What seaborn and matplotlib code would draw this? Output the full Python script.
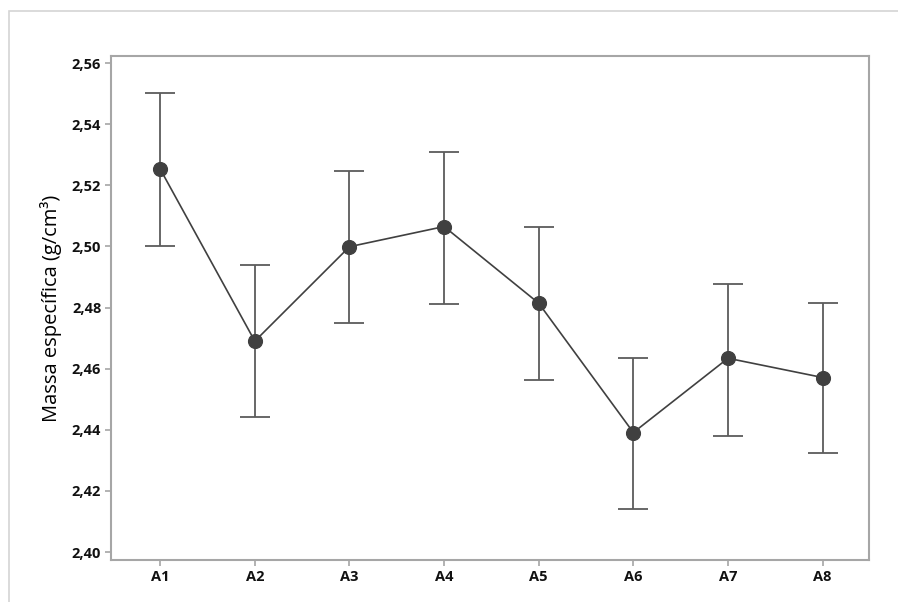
import numpy as np
import seaborn as sns
import matplotlib.pyplot as plt
from matplotlib.patches import Rectangle

sns.set_style("ticks")
plt.rcParams['font.family'] = ['Open Sans', 'DejaVu Sans']

grupos = ["A1", "A2", "A3", "A4", "A5", "A6", "A7", "A8"]
media = [2.5253, 2.4690, 2.4999, 2.5065, 2.4814, 2.4391, 2.4634, 2.4571]
limite_inf = [2.5002, 2.4441, 2.4749, 2.4810, 2.4564, 2.4142, 2.4379, 2.4323]
limite_sup = [2.5501, 2.4940, 2.5248, 2.5309, 2.5063, 2.4636, 2.4878, 2.4816]
yticks = [2.40, 2.42, 2.44, 2.46, 2.48, 2.50, 2.52, 2.54, 2.56]

fig = plt.figure(figsize=(8.98, 6.02), dpi=100)
# moldura cinza clara do grafico original
fig.patches.append(Rectangle((0.0095, -0.1), 1.2, 0.1 + 0.981, transform=fig.transFigure,
                             fill=False, edgecolor="#d4d4d4", linewidth=1.2))
ax = fig.add_axes([0.1236, 0.0698, 0.9677 - 0.1236, 0.907 - 0.0698])

pos = np.arange(len(grupos))
m = np.asarray(media)
err = [m - np.asarray(limite_inf), np.asarray(limite_sup) - m]
ax.errorbar(pos, m, yerr=err, fmt="none", ecolor="#5c5c5c", elinewidth=1.3,
            capsize=11, capthick=1.3, zorder=2)

sns.pointplot(x=grupos, y=media, errorbar=None, color="#404040", markers="o",
              markersize=10, linewidth=1.2, ax=ax, zorder=3)

ax.set_xlim(-0.52, 7.49)
ax.set_ylim(2.3974, 2.5623)
ax.set_yticks(yticks)
ax.set_yticklabels([f"{v:.2f}".replace(".", ",") for v in yticks])
ax.set_ylabel("Massa específica (g/cm³)", fontsize=14.5, color="black", labelpad=7)
ax.set_xlabel("")

for s in ax.spines.values():
    s.set_color("#a6a6a6")
    s.set_linewidth(1.5)
ax.tick_params(axis="both", length=4, width=1.2, color="#a6a6a6", labelsize=10.5,
               labelcolor="#111111", pad=3)
for lab in ax.get_xticklabels() + ax.get_yticklabels():
    lab.set_fontweight("bold")

fig.savefig("out.png", dpi=100)
